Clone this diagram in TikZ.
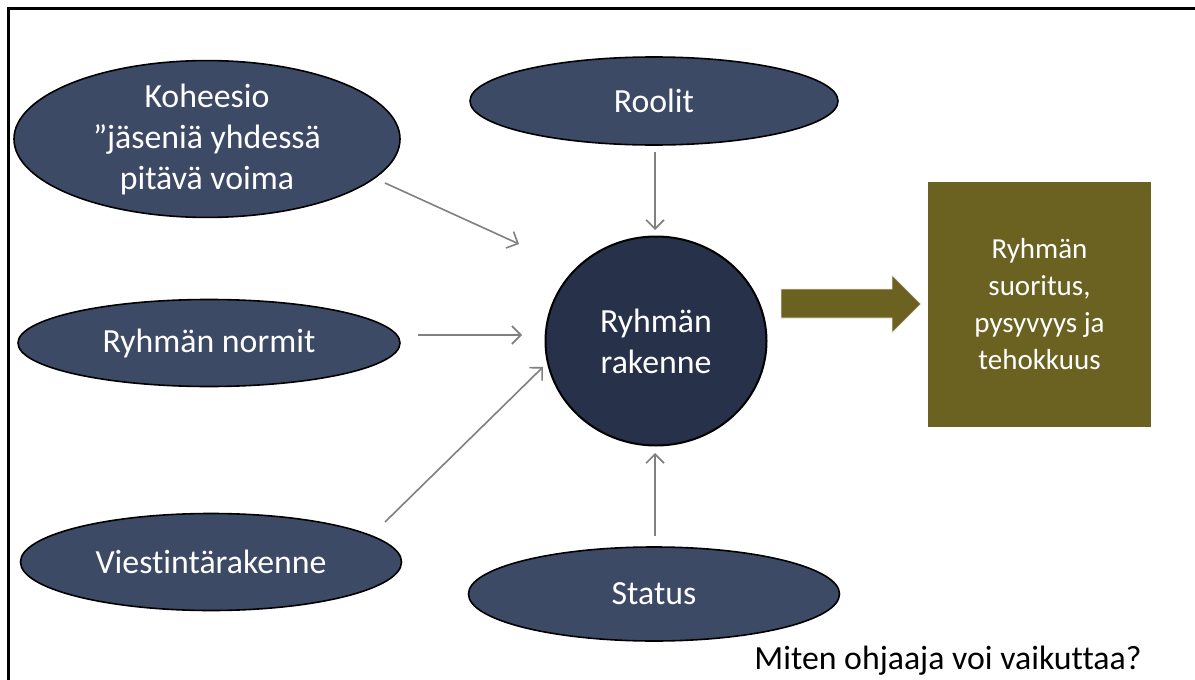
\documentclass[tikz,border=0pt]{standalone}
\usepackage{fontspec}
\setmainfont{Carlito}[Ligatures=NoCommon]
\usetikzlibrary{shapes.geometric,arrows.meta}
\definecolor{ellfill}{HTML}{3D4A66}
\definecolor{circfill}{HTML}{28314A}
\definecolor{olive}{HTML}{6B6222}
\definecolor{conngray}{HTML}{808080}
\tikzset{
  ell/.style={ellipse, draw=black, line width=1.6pt, fill=ellfill, text=white, inner sep=0pt, align=center,
    font=\fontsize{33.8}{41}\selectfont},
  conn/.style={draw=conngray, line width=1.6pt, -{Straight Barb[length=9pt,width=18pt,line width=1.6pt]}},
}
\begin{document}
\begin{tikzpicture}[x=1pt,y=-1pt]
\useasboundingbox (0,0) rectangle (1195,680);
\fill[white] (0,0) rectangle (1195,680);
% frame
\draw[line width=3pt] (8,681) -- (8,8) -- (1196,8);
% nodes
\node[ell, minimum width=386pt, minimum height=144pt] (koh) at (207,139) {Koheesio\\”jäseniä yhdessä\\pitävä voima};
\node[ell, minimum width=368pt, minimum height=88pt] (rool) at (654,101) {Roolit};
\node[ell, minimum width=382pt, minimum height=87pt] (norm) at (209,343) {Ryhmän normit};
\node[ell, minimum width=381pt, minimum height=97pt] (vie) at (211,562) {Viestintärakenne};
\node[ell, minimum width=371pt, minimum height=94pt] (stat) at (654,594) {Status};
\node[ellipse, draw=black, line width=2pt, fill=circfill, text=white, inner sep=0pt, align=center,
  minimum width=221pt, minimum height=209pt, font=\fontsize{33.8}{41}\selectfont] (ryh) at (656,341) {Ryhmän\\rakenne};
\node[rectangle, fill=olive, text=white, inner sep=0pt, align=center, minimum width=223pt, minimum height=245pt,
  font=\fontsize{29}{37}\selectfont] (box) at (1039.5,304.5) {Ryhmän\\suoritus,\\pysyvyys ja\\tehokkuus};
\node[anchor=base, font=\fontsize{33.8}{41}\selectfont] (q) at (948,669) {Miten ohjaaja voi vaikuttaa?};
% big arrow
\draw[fill=olive, draw=white!85!olive, line width=0.8pt] (781,289) -- (892,289) -- (892,275) -- (921,304) -- (892,333) -- (892,318) -- (781,318) -- cycle;
% connectors
\coordinate (k1) at (385,183); \coordinate (k2) at (519,244);
\coordinate (n1) at (418,335); \coordinate (n2) at (522,335);
\coordinate (v1) at (385,522); \coordinate (v2) at (543,367);
\coordinate (r1) at (655,152); \coordinate (r2) at (655,230);
\coordinate (s1) at (655,536); \coordinate (s2) at (655,453);
\draw[conn] (k1) -- (k2);
\draw[conn] (n1) -- (n2);
\draw[conn] (v1) -- (v2);
\draw[conn] (r1) -- (r2);
\draw[conn] (s1) -- (s2);
\end{tikzpicture}
\end{document}
